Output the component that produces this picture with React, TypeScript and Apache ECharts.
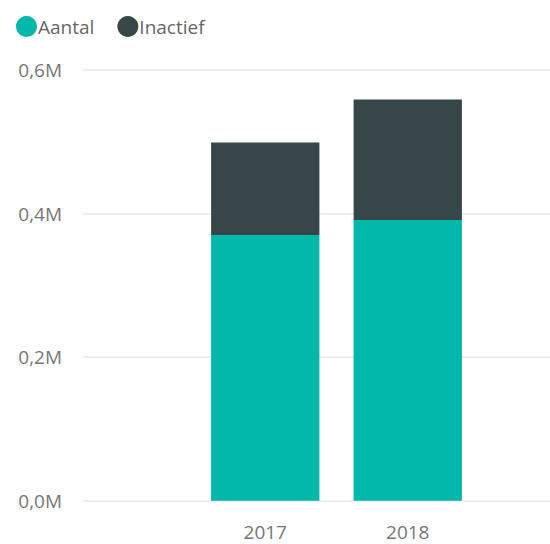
import React, { useEffect, useRef } from "react";
import * as echarts from "echarts";

const categories = ["2017", "2018"];
const aantal = [370000, 391000];
const inactief = [129000, 168000];
const yTicks = [0, 200000, 400000, 600000];

const fmt = (v: number) => (v / 1e6).toFixed(1).replace(".", ",") + "M";

export default function App() {
  const ref = useRef<HTMLDivElement>(null);
  useEffect(() => {
    if (!ref.current) return;
    const chart = echarts.init(ref.current, undefined, { renderer: "svg" });
    const font = "'Open Sans', 'Noto Sans', sans-serif";
    chart.setOption({
      animation: false,
      legend: {
        left: 11,
        top: 11,
        itemWidth: 21,
        itemHeight: 21,
        itemGap: 23,
        icon: "circle",
        textStyle: { color: "#666666", fontSize: 19, fontFamily: font, padding: [0, 0, 0, -4] },
        data: ["Aantal", "Inactief"],
      },
      grid: [
        { left: 83, right: 0, top: 70, bottom: 43.3 },
        { left: 194, width: 285, top: 70, bottom: 43.3 },
      ],
      xAxis: [
        { type: "category", gridIndex: 0, data: categories, show: false },
        {
          type: "category",
          gridIndex: 1,
          data: categories,
          axisLine: { show: false },
          axisTick: { show: false },
          axisLabel: { color: "#777777", fontSize: 19, fontFamily: font, margin: 22 },
        },
      ],
      yAxis: [
        {
          type: "value",
          gridIndex: 0,
          min: yTicks[0],
          max: yTicks[yTicks.length - 1],
          interval: 200000,
          axisLine: { show: false },
          axisTick: { show: false },
          splitLine: { lineStyle: { color: "#e8e8e8", width: 1.5 } },
          axisLabel: { color: "#777777", fontSize: 19, fontFamily: font, margin: 21, formatter: fmt },
        },
        {
          type: "value",
          gridIndex: 1,
          min: yTicks[0],
          max: yTicks[yTicks.length - 1],
          interval: 200000,
          show: false,
          splitLine: { show: false },
        },
      ],
      series: [
        {
          name: "Aantal",
          type: "bar",
          stack: "s",
          xAxisIndex: 1,
          yAxisIndex: 1,
          data: aantal,
          barCategoryGap: "24%",
          itemStyle: { color: "#01B8AA" },
        },
        {
          name: "Inactief",
          type: "bar",
          stack: "s",
          xAxisIndex: 1,
          yAxisIndex: 1,
          data: inactief,
          barCategoryGap: "24%",
          itemStyle: { color: "#374649" },
        },
      ],
    });
    return () => chart.dispose();
  }, []);
  return <div ref={ref} style={{ width: 550, height: 544, position: "absolute", left: 0, top: 0, background: "#fff" }} />;
}
